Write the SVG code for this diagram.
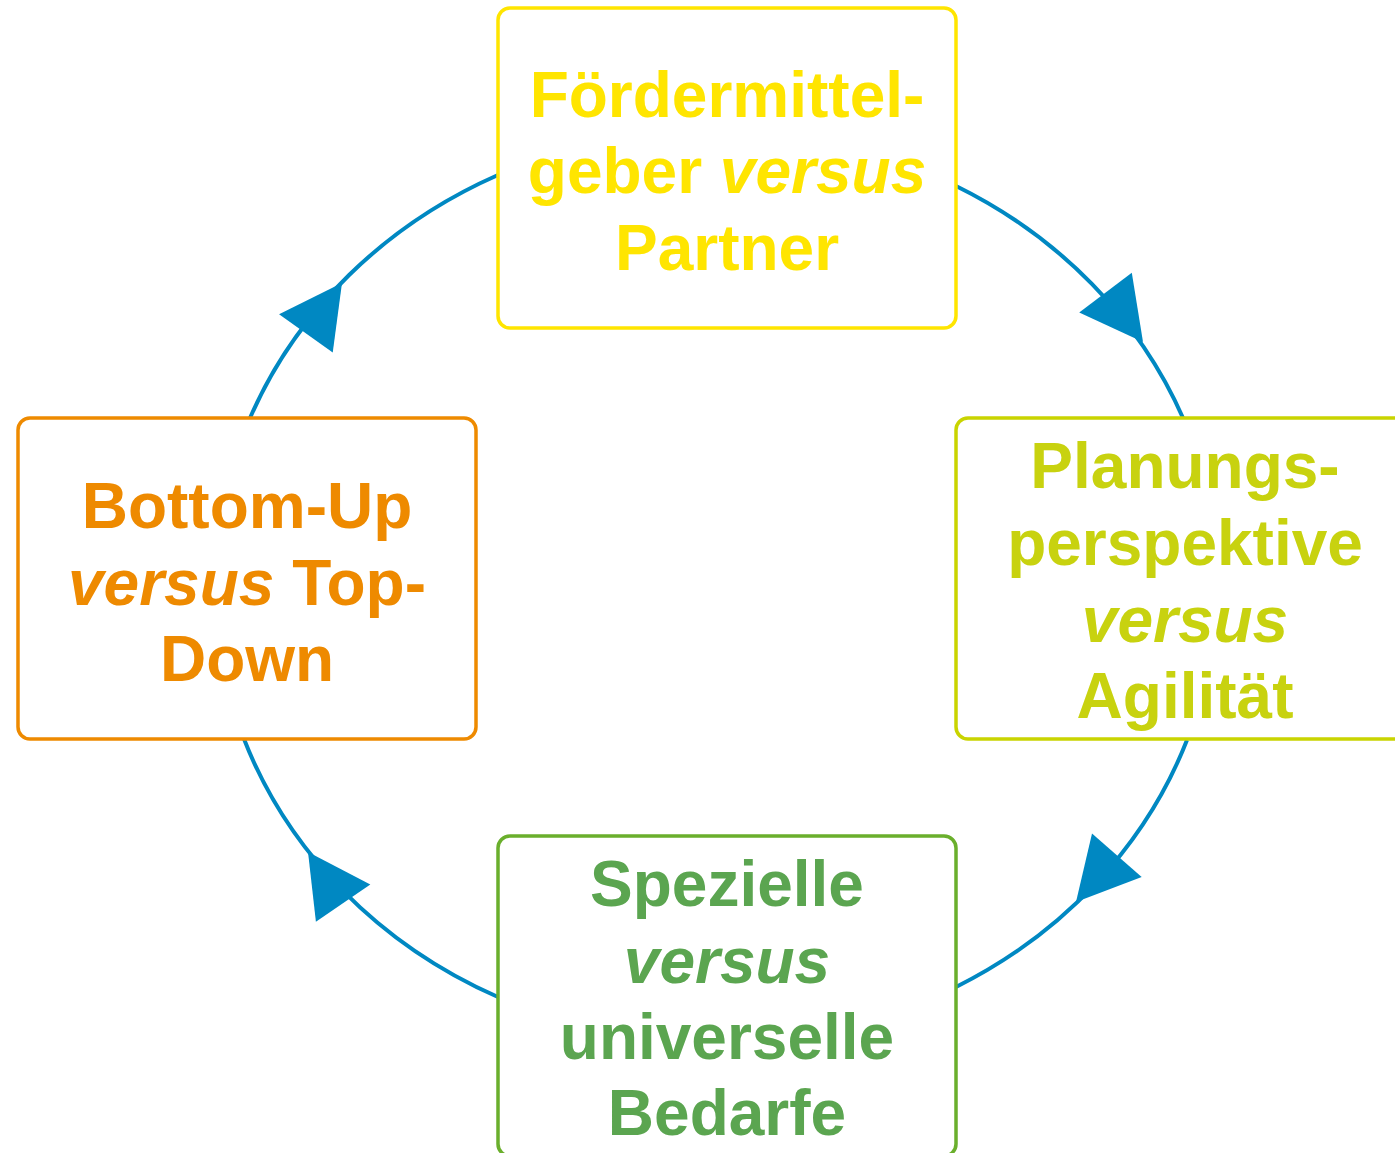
<svg xmlns="http://www.w3.org/2000/svg" xmlns:xlink="http://www.w3.org/1999/xlink" width="1395" height="1153" viewBox="0 0 1395 1153">
  <style>
    .arc { fill: none; stroke: #0088C2; stroke-width: 4; }
    .head { fill: #0088C2; }
    .box { fill: #FFFFFF; stroke-width: 3.5; }
    .lbl { font-family: "Liberation Sans", Arial, sans-serif; font-weight: bold; font-size: 64px; text-anchor: middle; }
    .it { font-style: italic; }
    .yellow { stroke: #FFE500; } .yellowT { fill: #FFE500; }
    .lime { stroke: #C9D400; } .limeT { fill: #C8D20F; }
    .green { stroke: #6AAF2C; } .greenT { fill: #5BA550; }
    .orange { stroke: #EE8A00; } .orangeT { fill: #EE8A00; }
  </style>
  <defs>
    <path id="ah" class="head" d="M0,0 L-62,-33 L-62,33 Z"/>
  </defs>
  <rect width="1395" height="1153" fill="#FFFFFF"/>
  <g id="connectors">
    <path class="arc" d="M956,186 A501,456 0 0 1 1183,418"/>
    <path class="arc" d="M1187,740 A501,456 0 0 1 956,987"/>
    <path class="arc" d="M498,997 A501,456 0 0 1 244,739"/>
    <path class="arc" d="M250,418 A501,456 0 0 1 498,175"/>
    <use xlink:href="#ah" transform="translate(1143,342) rotate(52.8)"/>
    <use xlink:href="#ah" transform="translate(1076,902) rotate(131.2)"/>
    <use xlink:href="#ah" transform="translate(308,852) rotate(-124.5)"/>
    <use xlink:href="#ah" transform="translate(342,283) rotate(-54.4)"/>
  </g>
  <g id="node-foerdermittel">
    <rect class="box yellow" x="498" y="8" width="458" height="320" rx="12"/>
    <text class="lbl yellowT" x="727" y="117">Fördermittel-</text>
    <text class="lbl yellowT" x="727" y="193">geber <tspan class="it">versus</tspan></text>
    <text class="lbl yellowT" x="727" y="270">Partner</text>
  </g>
  <g id="node-planung">
    <rect class="box lime" x="956" y="418" width="458" height="321" rx="12"/>
    <text class="lbl limeT" x="1185" y="488">Planungs-</text>
    <text class="lbl limeT" x="1185" y="565">perspektive</text>
    <text class="lbl limeT it" x="1185" y="642">versus</text>
    <text class="lbl limeT" x="1185" y="718">Agilität</text>
  </g>
  <g id="node-spezielle">
    <rect class="box green" x="498" y="836" width="458" height="320" rx="12"/>
    <text class="lbl greenT" x="727" y="906">Spezielle</text>
    <text class="lbl greenT it" x="727" y="983">versus</text>
    <text class="lbl greenT" x="727" y="1059">universelle</text>
    <text class="lbl greenT" x="727" y="1135">Bedarfe</text>
  </g>
  <g id="node-bottomup">
    <rect class="box orange" x="18" y="418" width="458" height="321" rx="12"/>
    <text class="lbl orangeT" x="247" y="528">Bottom-Up</text>
    <text class="lbl orangeT" x="247" y="605"><tspan class="it">versus</tspan> Top-</text>
    <text class="lbl orangeT" x="247" y="681">Down</text>
  </g>
</svg>
